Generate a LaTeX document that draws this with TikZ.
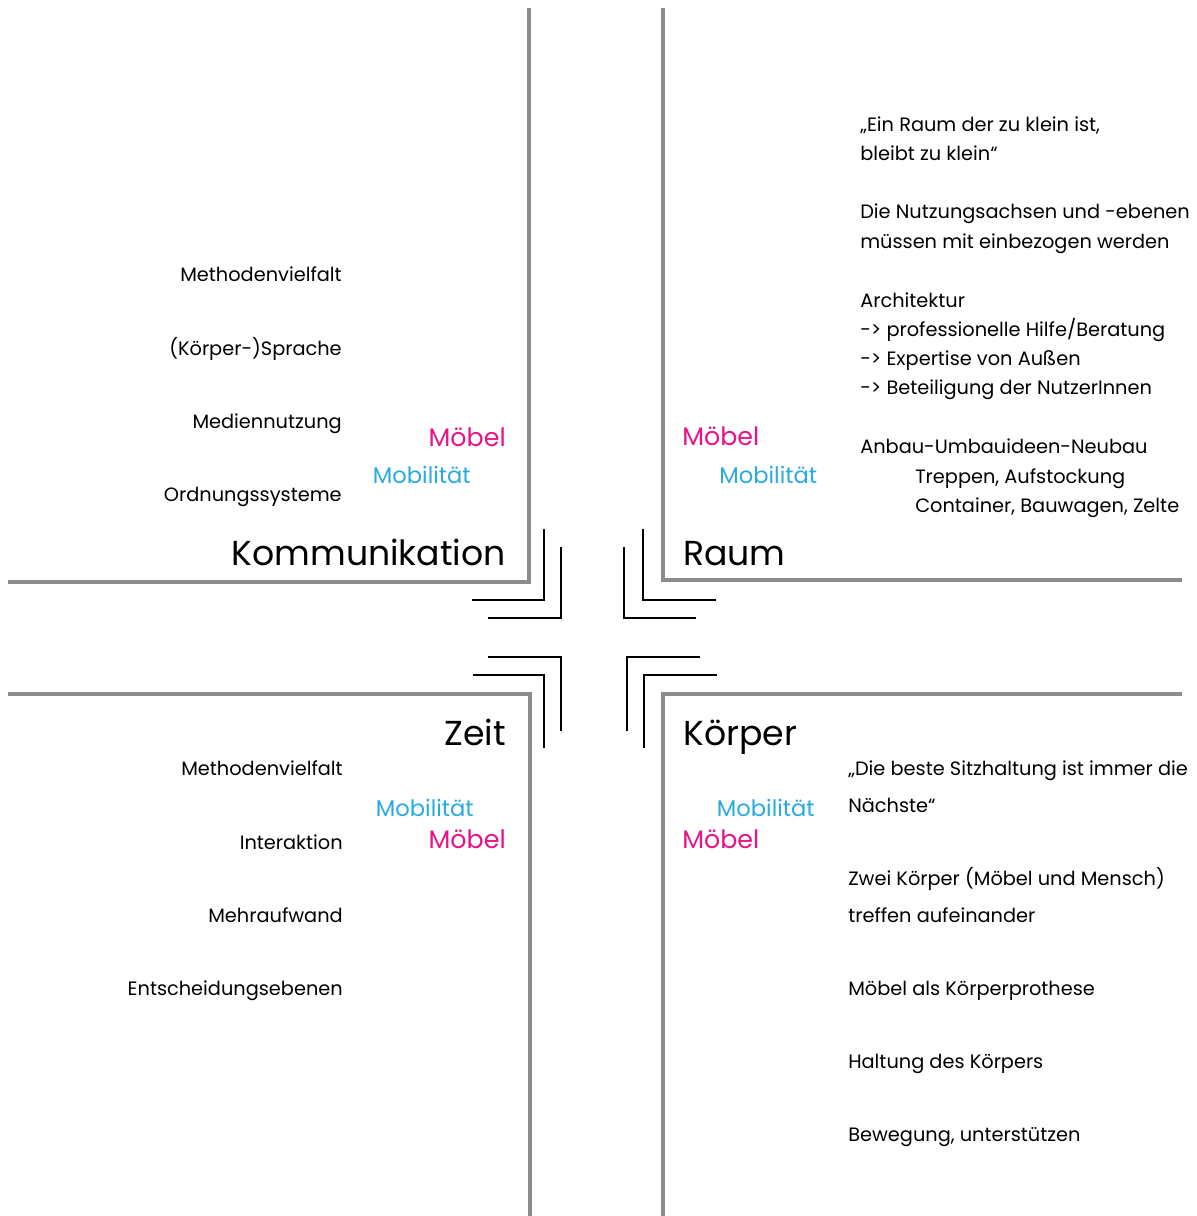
\documentclass[tikz,border=0pt]{standalone}
\usepackage{fontspec}
\setmainfont{Poppins}
\definecolor{lgray}{HTML}{8C8C8C}
\definecolor{mag}{HTML}{E6138A}
\definecolor{cya}{HTML}{29AAE2}
\begin{document}
\begin{tikzpicture}[x=0.75pt,y=-0.75pt,
  wall/.style={draw=lgray,line width=3pt},
  brk/.style={draw=black,line width=2pt},
  body/.style={inner sep=0pt,font=\fontsize{14.5}{16}\selectfont},
  head/.style={inner sep=0pt,font=\fontsize{26}{30}\selectfont},
  mob/.style={inner sep=0pt,font=\fontsize{19}{21}\selectfont,text=mag},
  mobi/.style={inner sep=0pt,font=\fontsize{17}{19}\selectfont,text=cya}]
\useasboundingbox (0,0) rectangle (1196,1216);
% walls
\coordinate (a1) at (529,8); \coordinate (a2) at (529,582); \coordinate (a3) at (8,582);
\draw[wall] (a1) -- (a2) -- (a3);
\coordinate (b1) at (663,8); \coordinate (b2) at (663,580); \coordinate (b3) at (1182,580);
\draw[wall] (b1) -- (b2) -- (b3);
\coordinate (c1) at (8,694); \coordinate (c2) at (530,694); \coordinate (c3) at (530,1216);
\draw[wall] (c1) -- (c2) -- (c3);
\coordinate (d1) at (1182,694); \coordinate (d2) at (663,694); \coordinate (d3) at (663,1216);
\draw[wall] (d1) -- (d2) -- (d3);
% brackets
\coordinate (p1) at (544,529); \coordinate (p2) at (544,600); \coordinate (p3) at (472,600);
\draw[brk] (p1) -- (p2) -- (p3);
\coordinate (q1) at (561,547); \coordinate (q2) at (561,618); \coordinate (q3) at (488,618);
\draw[brk] (q1) -- (q2) -- (q3);
\coordinate (r1) at (643,529); \coordinate (r2) at (643,600); \coordinate (r3) at (716,600);
\draw[brk] (r1) -- (r2) -- (r3);
\coordinate (s1) at (624,547); \coordinate (s2) at (624,618); \coordinate (s3) at (696,618);
\draw[brk] (s1) -- (s2) -- (s3);
\coordinate (t1) at (488,657); \coordinate (t2) at (561,657); \coordinate (t3) at (561,731);
\draw[brk] (t1) -- (t2) -- (t3);
\coordinate (u1) at (473,675); \coordinate (u2) at (544,675); \coordinate (u3) at (544,748);
\draw[brk] (u1) -- (u2) -- (u3);
\coordinate (v1) at (700,657); \coordinate (v2) at (627,657); \coordinate (v3) at (627,731);
\draw[brk] (v1) -- (v2) -- (v3);
\coordinate (w1) at (717,675); \coordinate (w2) at (644,675); \coordinate (w3) at (644,748);
\draw[brk] (w1) -- (w2) -- (w3);
% headings
\node[head,anchor=base east] (hk) at (506,565) {Kommunikation};
\node[head,anchor=base west] (hr) at (683,565) {Raum};
\node[head,anchor=base east] (hz) at (506,745) {Zeit};
\node[head,anchor=base west] (hkp) at (683,745) {Körper};
% top-left
\node[body,anchor=base east] (tl1) at (342,281) {Methodenvielfalt};
\node[body,anchor=base east] (tl2) at (342,355) {(Körper-)Sprache};
\node[body,anchor=base east] (tl3) at (342,428) {Mediennutzung};
\node[body,anchor=base east] (tl4) at (342,501) {Ordnungssysteme};
\node[mob,anchor=base east] (tlm) at (506,446) {Möbel};
\node[mobi,anchor=base east] (tlmo) at (471,483) {Mobilität};
% top-right
\node[mob,anchor=base west] (trm) at (682,445) {Möbel};
\node[mobi,anchor=base west] (trmo) at (719,483) {Mobilität};
\node[body,anchor=base west] (tr1) at (860,132) {„Ein Raum der zu klein ist,};
\node[body,anchor=base west] (tr2) at (860,161) {bleibt zu klein“};
\node[body,anchor=base west] (tr3) at (860,219) {Die Nutzungsachsen und -ebenen};
\node[body,anchor=base west] (tr4) at (860,248) {müssen mit einbezogen werden};
\node[body,anchor=base west] (tr5) at (860,307) {Architektur};
\node[body,anchor=base west] (tr6) at (860,336) {-> professionelle Hilfe/Beratung};
\node[body,anchor=base west] (tr7) at (860,365) {-> Expertise von Außen};
\node[body,anchor=base west] (tr8) at (860,394) {-> Beteiligung der NutzerInnen};
\node[body,anchor=base west] (tr9) at (860,453) {Anbau-Umbauideen-Neubau};
\node[body,anchor=base west] (tr10) at (915,483) {Treppen, Aufstockung};
\node[body,anchor=base west] (tr11) at (915,512) {Container, Bauwagen, Zelte};
% bottom-left
\node[body,anchor=base east] (bl1) at (343,775) {Methodenvielfalt};
\node[body,anchor=base east] (bl2) at (343,849) {Interaktion};
\node[body,anchor=base east] (bl3) at (343,922) {Mehraufwand};
\node[body,anchor=base east] (bl4) at (343,995) {Entscheidungsebenen};
\node[mobi,anchor=base east] (blmo) at (474,816) {Mobilität};
\node[mob,anchor=base east] (blm) at (506,848) {Möbel};
% bottom-right
\node[mobi,anchor=base east] (brmo) at (815,816) {Mobilität};
\node[mob,anchor=base west] (brm) at (682,848) {Möbel};
\node[body,anchor=base west] (br1) at (848,775) {„Die beste Sitzhaltung ist immer die};
\node[body,anchor=base west] (br2) at (848,812) {Nächste“};
\node[body,anchor=base west] (br3) at (848,885) {Zwei Körper (Möbel und Mensch)};
\node[body,anchor=base west] (br4) at (848,922) {treffen aufeinander};
\node[body,anchor=base west] (br5) at (848,995) {Möbel als Körperprothese};
\node[body,anchor=base west] (br6) at (848,1068) {Haltung des Körpers};
\node[body,anchor=base west] (br7) at (848,1141) {Bewegung, unterstützen};
\end{tikzpicture}
\end{document}
